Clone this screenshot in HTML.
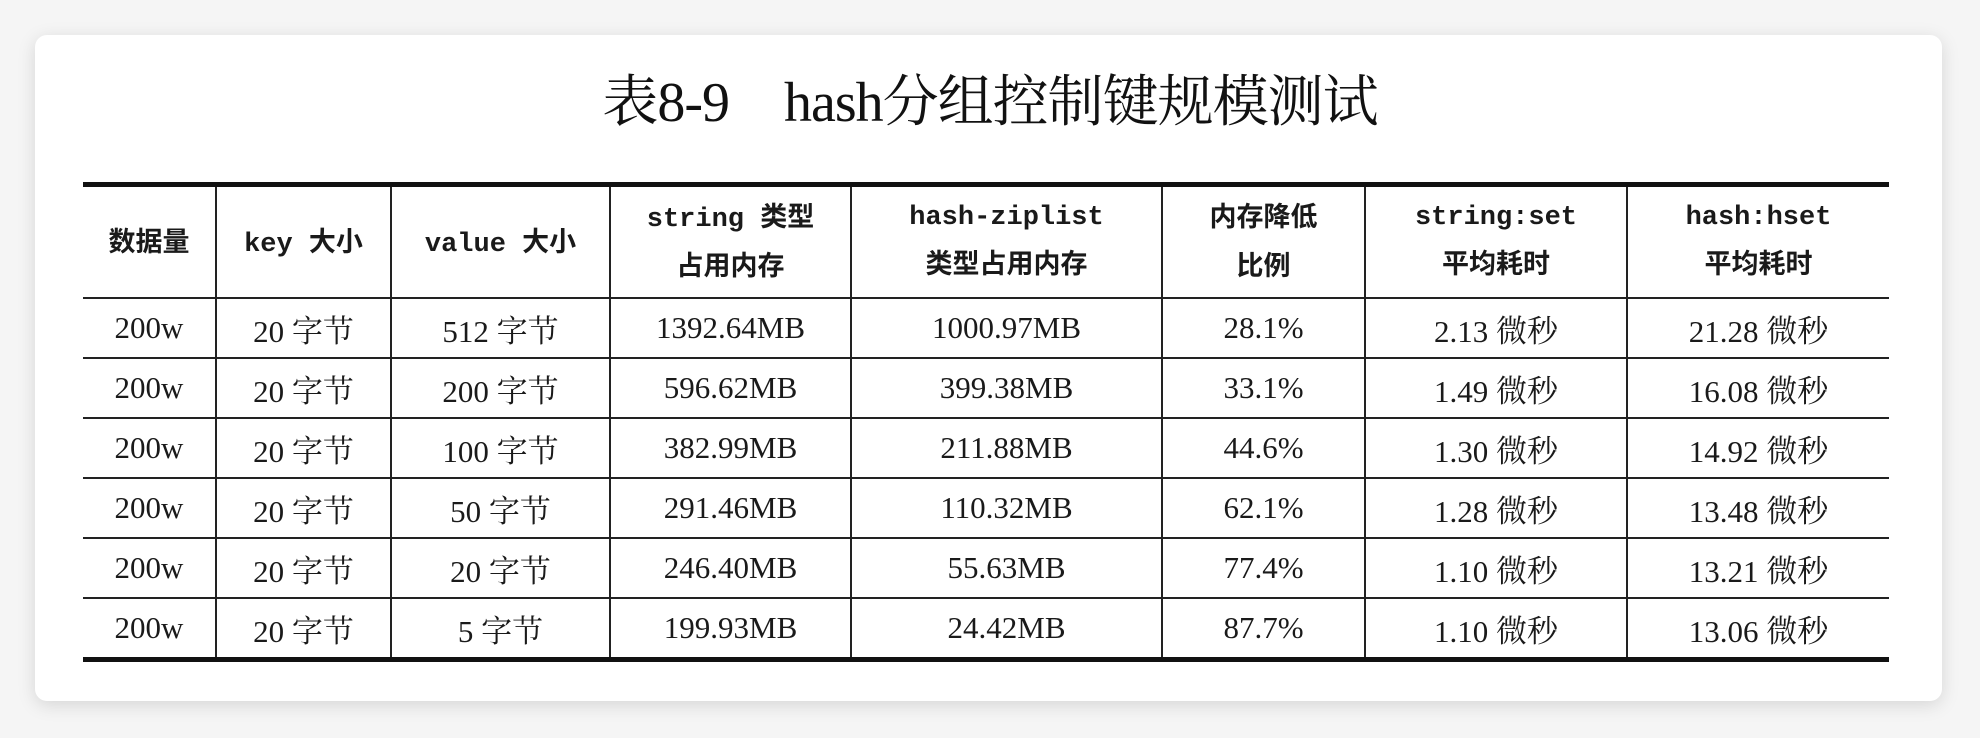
<!DOCTYPE html>
<html><head><meta charset="utf-8"><style>
body{margin:0;width:1980px;height:738px;background:#f5f5f5;position:relative;overflow:hidden;font-family:"Liberation Serif","Noto Serif CJK SC",serif;}
.card{position:absolute;left:35px;top:35px;width:1907px;height:666px;background:#fff;border-radius:12px;box-shadow:0 4px 18px rgba(0,0,0,0.13);}
.title{position:absolute;left:0;width:1980px;top:58px;text-align:center;font-size:56px;color:#111;letter-spacing:-1px;}
table{position:absolute;left:83px;top:182px;width:1806px;border-collapse:collapse;table-layout:fixed;color:#1a1a1a;}
td,th{border:2px solid #222;text-align:center;font-size:31px;padding:0;height:58px;font-weight:normal;vertical-align:middle;}
tr:first-child th{border-top:5px solid #111;height:110px;font-family:"Liberation Mono","Noto Sans CJK SC",monospace;font-weight:bold;font-size:27px;line-height:44px;}
tr:last-child td{border-bottom:5px solid #111;}
th:first-child,td:first-child{border-left:none;}
th:last-child,td:last-child{border-right:none;}
.cjk{font-family:"Noto Sans CJK SC",sans-serif;font-weight:bold;}
</style></head><body>
<div class="card"></div>
<div class="title">表8-9　hash分组控制键规模测试</div>
<table>
<colgroup><col style="width:133px"><col style="width:175px"><col style="width:219px"><col style="width:241px"><col style="width:311px"><col style="width:203px"><col style="width:262px"><col style="width:262px"></colgroup>
<tr>
<th><span class="cjk">数据量</span></th>
<th>key <span class="cjk">大小</span></th>
<th>value <span class="cjk">大小</span></th>
<th>string <span class="cjk">类型</span><br><span class="cjk">占用内存</span></th>
<th>hash-ziplist<br><span class="cjk">类型占用内存</span></th>
<th><span class="cjk">内存降低</span><br><span class="cjk">比例</span></th>
<th>string:set<br><span class="cjk">平均耗时</span></th>
<th>hash:hset<br><span class="cjk">平均耗时</span></th>
</tr>
<tr><td>200w</td><td>20 字节</td><td>512 字节</td><td>1392.64MB</td><td>1000.97MB</td><td>28.1%</td><td>2.13 微秒</td><td>21.28 微秒</td></tr>
<tr><td>200w</td><td>20 字节</td><td>200 字节</td><td>596.62MB</td><td>399.38MB</td><td>33.1%</td><td>1.49 微秒</td><td>16.08 微秒</td></tr>
<tr><td>200w</td><td>20 字节</td><td>100 字节</td><td>382.99MB</td><td>211.88MB</td><td>44.6%</td><td>1.30 微秒</td><td>14.92 微秒</td></tr>
<tr><td>200w</td><td>20 字节</td><td>50 字节</td><td>291.46MB</td><td>110.32MB</td><td>62.1%</td><td>1.28 微秒</td><td>13.48 微秒</td></tr>
<tr><td>200w</td><td>20 字节</td><td>20 字节</td><td>246.40MB</td><td>55.63MB</td><td>77.4%</td><td>1.10 微秒</td><td>13.21 微秒</td></tr>
<tr><td>200w</td><td>20 字节</td><td>5 字节</td><td>199.93MB</td><td>24.42MB</td><td>87.7%</td><td>1.10 微秒</td><td>13.06 微秒</td></tr>
</table>
</body></html>
